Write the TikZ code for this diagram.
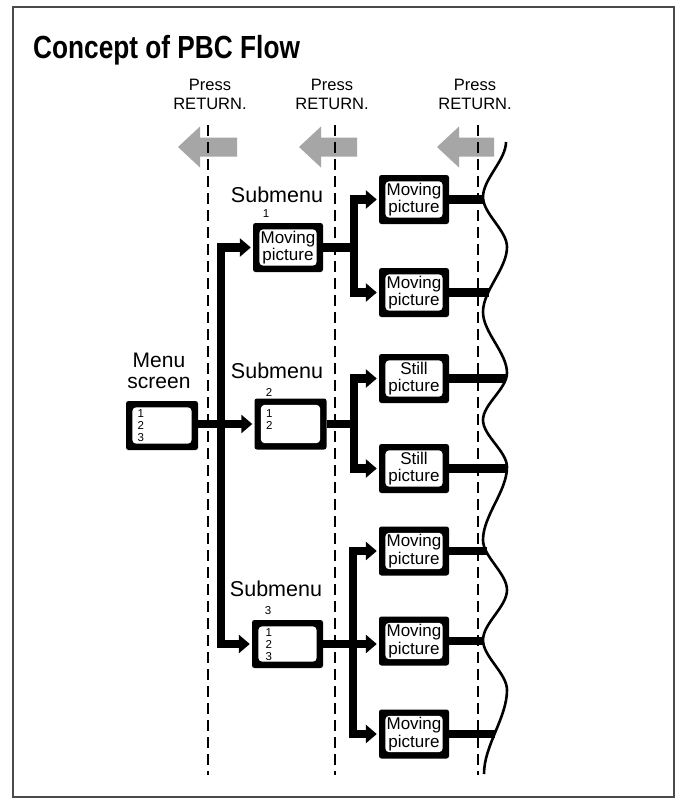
\documentclass[tikz,border=0pt]{standalone}
\usepackage{fontspec}
\setmainfont{Liberation Sans}
\usepackage{graphicx}
\usetikzlibrary{arrows.meta}
\definecolor{arrowgray}{HTML}{A6A6A6}
\definecolor{framegray}{HTML}{4A4A4A}
\begin{document}
\begin{tikzpicture}[x=1pt,y=-1pt,
  scr/.style={fill=black, rounded corners=2.5pt, inner sep=0pt,
    minimum width=70pt, minimum height=49pt, align=center,
    font=\fontsize{17}{17.5}\selectfont,
    path picture={\fill[white, rounded corners=4pt]
      ([shift={(6.3pt,6.3pt)}]path picture bounding box.south west) rectangle
      ([shift={(-6.3pt,-6.3pt)}]path picture bounding box.north east);}},
  conn/.style={line width=8.5pt, -{Triangle[length=11pt,width=18pt]}, shorten >=2pt},
  bar/.style={line width=8.5pt},
  dashl/.style={line width=2.9pt, dash pattern=on 10.5pt off 6.5pt},
  wave/.style={line width=2.6pt},
  presslbl/.style={align=center, inner sep=0pt, font=\fontsize{16.5}{18.5}\selectfont},
  sublbl/.style={inner sep=0pt, font=\fontsize{21.5}{19}\selectfont},
  digits/.style={inner sep=0pt, align=left, font=\fontsize{11.5}{12}\selectfont},
  garrow/.style={fill=arrowgray}
]
\useasboundingbox (0,0) rectangle (685,798);
\fill[white] (0,0) rectangle (685,798);
\draw[framegray, line width=1.5pt] (13,7) rectangle (674,797);

% title
\node[anchor=base west, inner sep=0pt] (title) at (33,58)
  {\scalebox{0.82}[1]{\fontsize{32}{32}\selectfont\bfseries Concept of PBC Flow}};

% press labels
\node[presslbl] (p1) at (210,94.5) {Press\\RETURN.};
\node[presslbl] (p2) at (332,94.5) {Press\\RETURN.};
\node[presslbl] (p3) at (475,94.5) {Press\\RETURN.};

% gray arrows
\fill[garrow] (178,147) -- (200,126.5) -- (200,137.5) -- (237,137.5) -- (237,156.5) -- (200,156.5) -- (200,167.5) -- cycle;
\fill[garrow] (299,147) -- (321,126.5) -- (321,137.5) -- (357,137.5) -- (357,156.5) -- (321,156.5) -- (321,167.5) -- cycle;
\fill[garrow] (437,147) -- (459,126.5) -- (459,137.5) -- (494,137.5) -- (494,156.5) -- (459,156.5) -- (459,167.5) -- cycle;

% dashed lines
\coordinate (d1t) at (208,125); \coordinate (d1b) at (208,775);
\coordinate (d2t) at (335,125); \coordinate (d2b) at (335,775);
\coordinate (d3t) at (478,125); \coordinate (d3b) at (478,775);
\draw[dashl] (d1t) -- (d1b);
\draw[dashl] (d2t) -- (d2b);
\draw[dashl] (d3t) -- (d3b);

% wave
\draw[wave] (506,142) .. controls (506,160) and (483,179) .. (483,197)
 .. controls (483,213.7) and (507,230.3) .. (507,247)
 .. controls (507,268.7) and (483,290.3) .. (483,312)
 .. controls (483,332.3) and (507,352.7) .. (507,373)
 .. controls (507,388.7) and (483,404.3) .. (483,420)
 .. controls (483,435.7) and (507,451.3) .. (507,467)
 .. controls (507,491.3) and (483,515.7) .. (483,540)
 .. controls (483,556.7) and (507,573.3) .. (507,590)
 .. controls (507,606.7) and (483,623.3) .. (483,640)
 .. controls (483,656.7) and (507,673.3) .. (507,690)
 .. controls (507,717.7) and (484,745.3) .. (484,774);

% menu screen
\node[sublbl, align=center, font=\fontsize{21}{21}\selectfont] (menulbl) at (159,371) {Menu\\screen};
\node[scr, minimum width=72pt] (menu) at (162,425.5) {};
\node[digits, anchor=north west] (menud) at (137.5,409) {1\\2\\3};

% submenus
\node[sublbl, anchor=base] (sm1) at (277,202) {Submenu};
\node[sublbl, anchor=base] (sm2) at (277,378) {Submenu};
\node[sublbl, anchor=base] (sm3) at (276,596) {Submenu};
\node[digits] (n1) at (266,214) {1};
\node[digits] (n2) at (269,392) {2};
\node[digits] (n3) at (268,611) {3};
\node[scr] (s1) at (288,247.5) {Moving\\picture};
\node[scr, minimum width=72pt, minimum height=51pt] (s2) at (290.5,424) {};
\node[digits, anchor=north west] (s2d) at (266,409.5) {1\\2};
\node[scr, minimum width=71pt, minimum height=48pt] (s3) at (287.5,644) {};
\node[digits, anchor=north west] (s3d) at (265.5,628.5) {1\\2\\3};

% pictures
\node[scr] (b1) at (414,199.5) {Moving\\picture};
\node[scr] (b2) at (414,292.5) {Moving\\picture};
\node[scr] (b3) at (414,378.5) {Still\\picture};
\node[scr] (b4) at (414,468.5) {Still\\picture};
\node[scr] (b5) at (414,551) {Moving\\picture};
\node[scr] (b6) at (414,641) {Moving\\picture};
\node[scr] (b7) at (414,734) {Moving\\picture};

% trunks
\coordinate (t0) at (221,0);
\coordinate (t1) at (354,0);
\coordinate (t2) at (354,0);
\coordinate (t3) at (353,0);

\draw[conn] (menu.east |- s2.west) -- (s2.west);
\draw[conn, line join=miter] (s3.west -| t0) |- (s1.west);
\draw[conn, line join=miter] (s1.west -| t0) |- (s3.west);

\draw[conn, line join=miter] (s1.east) -- (s1.east -| t1) |- (b1.west);
\draw[conn, line join=miter] (s1.east -| t1) |- (b2.west);

\draw[conn, line join=miter] (s2.east) -- (s2.east -| t2) |- (b3.west);
\draw[conn, line join=miter] (s2.east -| t2) |- (b4.west);

\draw[conn] (s3.east) -- (s3.east -| b6.west);
\draw[conn, line join=miter] (b7.west -| t3) |- (b5.west);
\draw[conn, line join=miter] (b5.west -| t3) |- (b7.west);

% bars to wave
\coordinate (w1) at (483.5,199.5);
\coordinate (w2) at (488.5,292.5);
\coordinate (w3) at (506,378.5);
\coordinate (w4) at (507,468.5);
\coordinate (w5) at (486.5,551);
\coordinate (w6) at (483.5,641);
\coordinate (w7) at (494.5,734);
\draw[bar] (b1.east) -- (w1);
\draw[bar] (b2.east) -- (w2);
\draw[bar] (b3.east) -- (w3);
\draw[bar] (b4.east) -- (w4);
\draw[bar] (b5.east) -- (w5);
\draw[bar] (b6.east) -- (w6);
\draw[bar] (b7.east) -- (w7);
\end{tikzpicture}
\end{document}
